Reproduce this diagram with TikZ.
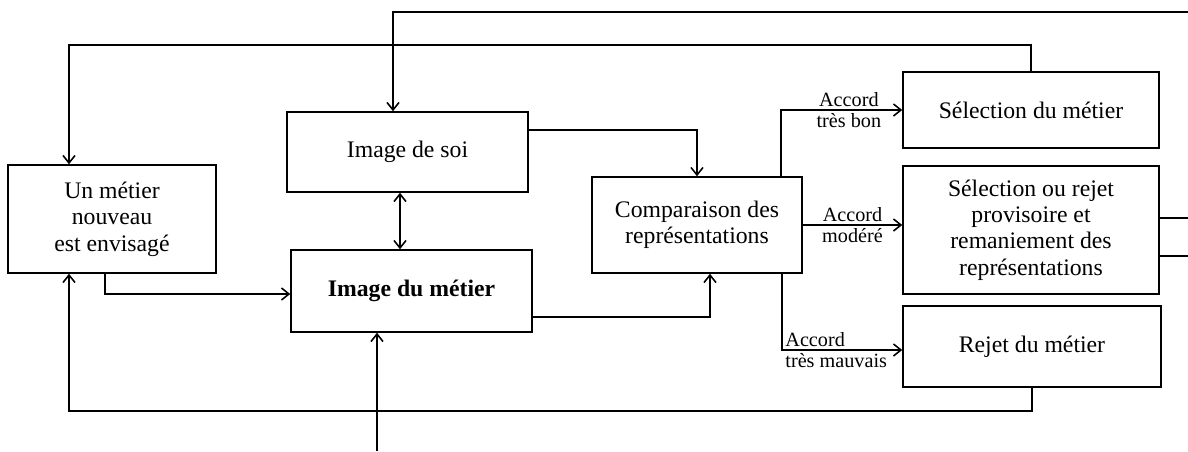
\documentclass[tikz,border=0pt]{standalone}
\usepackage{fontspec}
\setmainfont{Liberation Serif}
\usetikzlibrary{arrows.meta, positioning, calc}
\tikzset{
    box/.style      ={rectangle, draw=black, line width=0.9pt, align=center, text centered, font=\fontsize{13.5}{15}\selectfont},
    lbl/.style      ={font=\fontsize{11.5}{12.5}\selectfont, inner sep=1.5pt},
    flowarrow/.style={-{Straight Barb[length=1.5mm, width=2.4mm]}, line width=0.9pt},
    biarrow/.style  ={{Straight Barb[length=1.5mm, width=2.4mm]}-{Straight Barb[length=1.5mm, width=2.4mm]}, line width=0.9pt},
    line/.style     ={line width=0.9pt},
}

\begin{document}
\begin{tikzpicture}[x=0.02cm, y=-0.02cm]
                \useasboundingbox (0,0) rectangle (1188,451);
                \node[box, minimum width=4.16cm, minimum height=2.16cm] (nouv) at (112,219) {Un métier\\nouveau\\est envisagé};
                \node[box, minimum width=4.82cm, minimum height=1.6cm] (soi) at (407.5,152) {Image de soi};
                \node[box, minimum width=4.82cm, minimum height=1.64cm, font=\fontsize{13.5}{15}\selectfont\bfseries] (metier) at (411.5,291) {Image du métier};
                \node[box, minimum width=4.2cm, minimum height=1.92cm] (comp) at (697,225) {Comparaison des\\représentations};
                \node[box, minimum width=5.12cm, minimum height=1.52cm] (sel) at (1031,110) {Sélection du métier};
                \node[box, minimum width=5.12cm, minimum height=2.56cm] (reman) at (1031,230) {Sélection ou rejet\\provisoire et\\remaniement des\\représentations};
                \node[box, minimum width=5.16cm, minimum height=1.62cm] (rejet) at (1032,346.5) {Rejet du métier};
                \coordinate (topin) at (1188,12);
                \coordinate (fbtop) at (600,45);
                \coordinate (fbbot) at (600,411);
                \coordinate (botin) at (377,451);
                \coordinate (edge) at (1188,0);
                \draw[flowarrow] (topin) -| ([xshift=-0.29cm]soi.north);
                \draw[flowarrow] (sel.north) |- (fbtop) -| ([xshift=-0.86cm]nouv.north);
                \draw[flowarrow] (rejet.south) |- (fbbot) -| ([xshift=-0.86cm]nouv.south);
                \draw[flowarrow] ([xshift=-0.14cm]nouv.south) |- ([yshift=-0.06cm]metier.west);
                \draw[biarrow] ([xshift=-0.15cm]soi.south) -- ([xshift=-0.15cm]soi.south |- metier.north);
                \draw[flowarrow] ([yshift=0.44cm]soi.east) -| (comp.north);
                \draw[flowarrow] ([yshift=-0.52cm]metier.east) -| ([xshift=0.26cm]comp.south);
                \draw[flowarrow] ([xshift=1.68cm]comp.north) |- (sel.west) node[lbl, above, pos=.78]{Accord} node[lbl, below, pos=.78]{très bon};
                \draw[flowarrow] (comp.east) -- (comp.east -| reman.west) node[lbl, above, midway]{Accord} node[lbl, below, midway]{modéré};
                \draw[flowarrow] ([xshift=1.7cm]comp.south) |- ([yshift=-0.07cm]rejet.west) node[lbl, above right, pos=.5]{Accord} node[lbl, below right, pos=.5]{très mauvais};
                \draw[line] ([yshift=0.24cm]reman.east) -- ([yshift=0.24cm]reman.east -| edge);
                \draw[line] ([yshift=-0.52cm]reman.east) -- ([yshift=-0.52cm]reman.east -| edge);
                \draw[flowarrow] (botin) -- (botin |- metier.south);
            \end{tikzpicture}
\end{document}
